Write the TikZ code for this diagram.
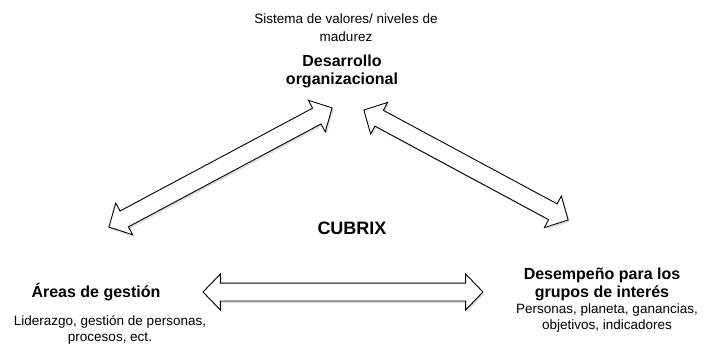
\documentclass[tikz,border=0pt]{standalone}
\usepackage{fontspec}
\setmainfont{Liberation Sans}
\usetikzlibrary{shapes.arrows,shadows}
\begin{document}
\begin{tikzpicture}[x=1pt,y=-1pt,
  blockarrow/.style={double arrow, draw=black, line width=0.9pt, fill=white,
    inner xsep=0pt, inner ysep=8.5pt, outer sep=0pt,
    double arrow head extend=9pt, double arrow tip angle=92,
    drop shadow={shadow xshift=1.5pt, shadow yshift=-2pt, opacity=0.25, fill=gray}},
  subtxt/.style={align=center, inner sep=0pt, font=\fontsize{13.5}{18}\selectfont},
  titletxt/.style={align=center, inner sep=0pt, font=\fontsize{16}{18}\selectfont\bfseries}]
\useasboundingbox (0,0) rectangle (704,345);
\fill[white] (0,0) rectangle (704,345);
% arrows
\node[blockarrow, minimum height=253pt, rotate=28.1] (arrL) at (220.5,167.5) {};
\node[blockarrow, minimum height=232pt, rotate=-28.3] (arrR) at (466,165) {};
\node[blockarrow, minimum height=280pt] (arrB) at (343,292) {};
% texts
\node[subtxt] (topsub) at (346,28) {Sistema de valores/ niveles de\\madurez};
\node[titletxt] (toptitle) at (342,71) {Desarrollo\\organizacional};
\node[titletxt, font=\fontsize{18}{20}\selectfont\bfseries] (cubrix) at (352,228) {CUBRIX};
\node[titletxt] (lefttitle) at (96,292) {Áreas de gestión};
\node[subtxt, font=\fontsize{13.5}{16.5}\selectfont] (leftsub) at (110,330) {Liderazgo, gestión de personas,\\procesos, ect.};
\node[titletxt] (righttitle) at (602,284) {Desempeño para los\\grupos de interés};
\node[subtxt, font=\fontsize{13.5}{16}\selectfont] (rightsub) at (607,318) {Personas, planeta, ganancias,\\objetivos, indicadores};
\end{tikzpicture}
\end{document}
